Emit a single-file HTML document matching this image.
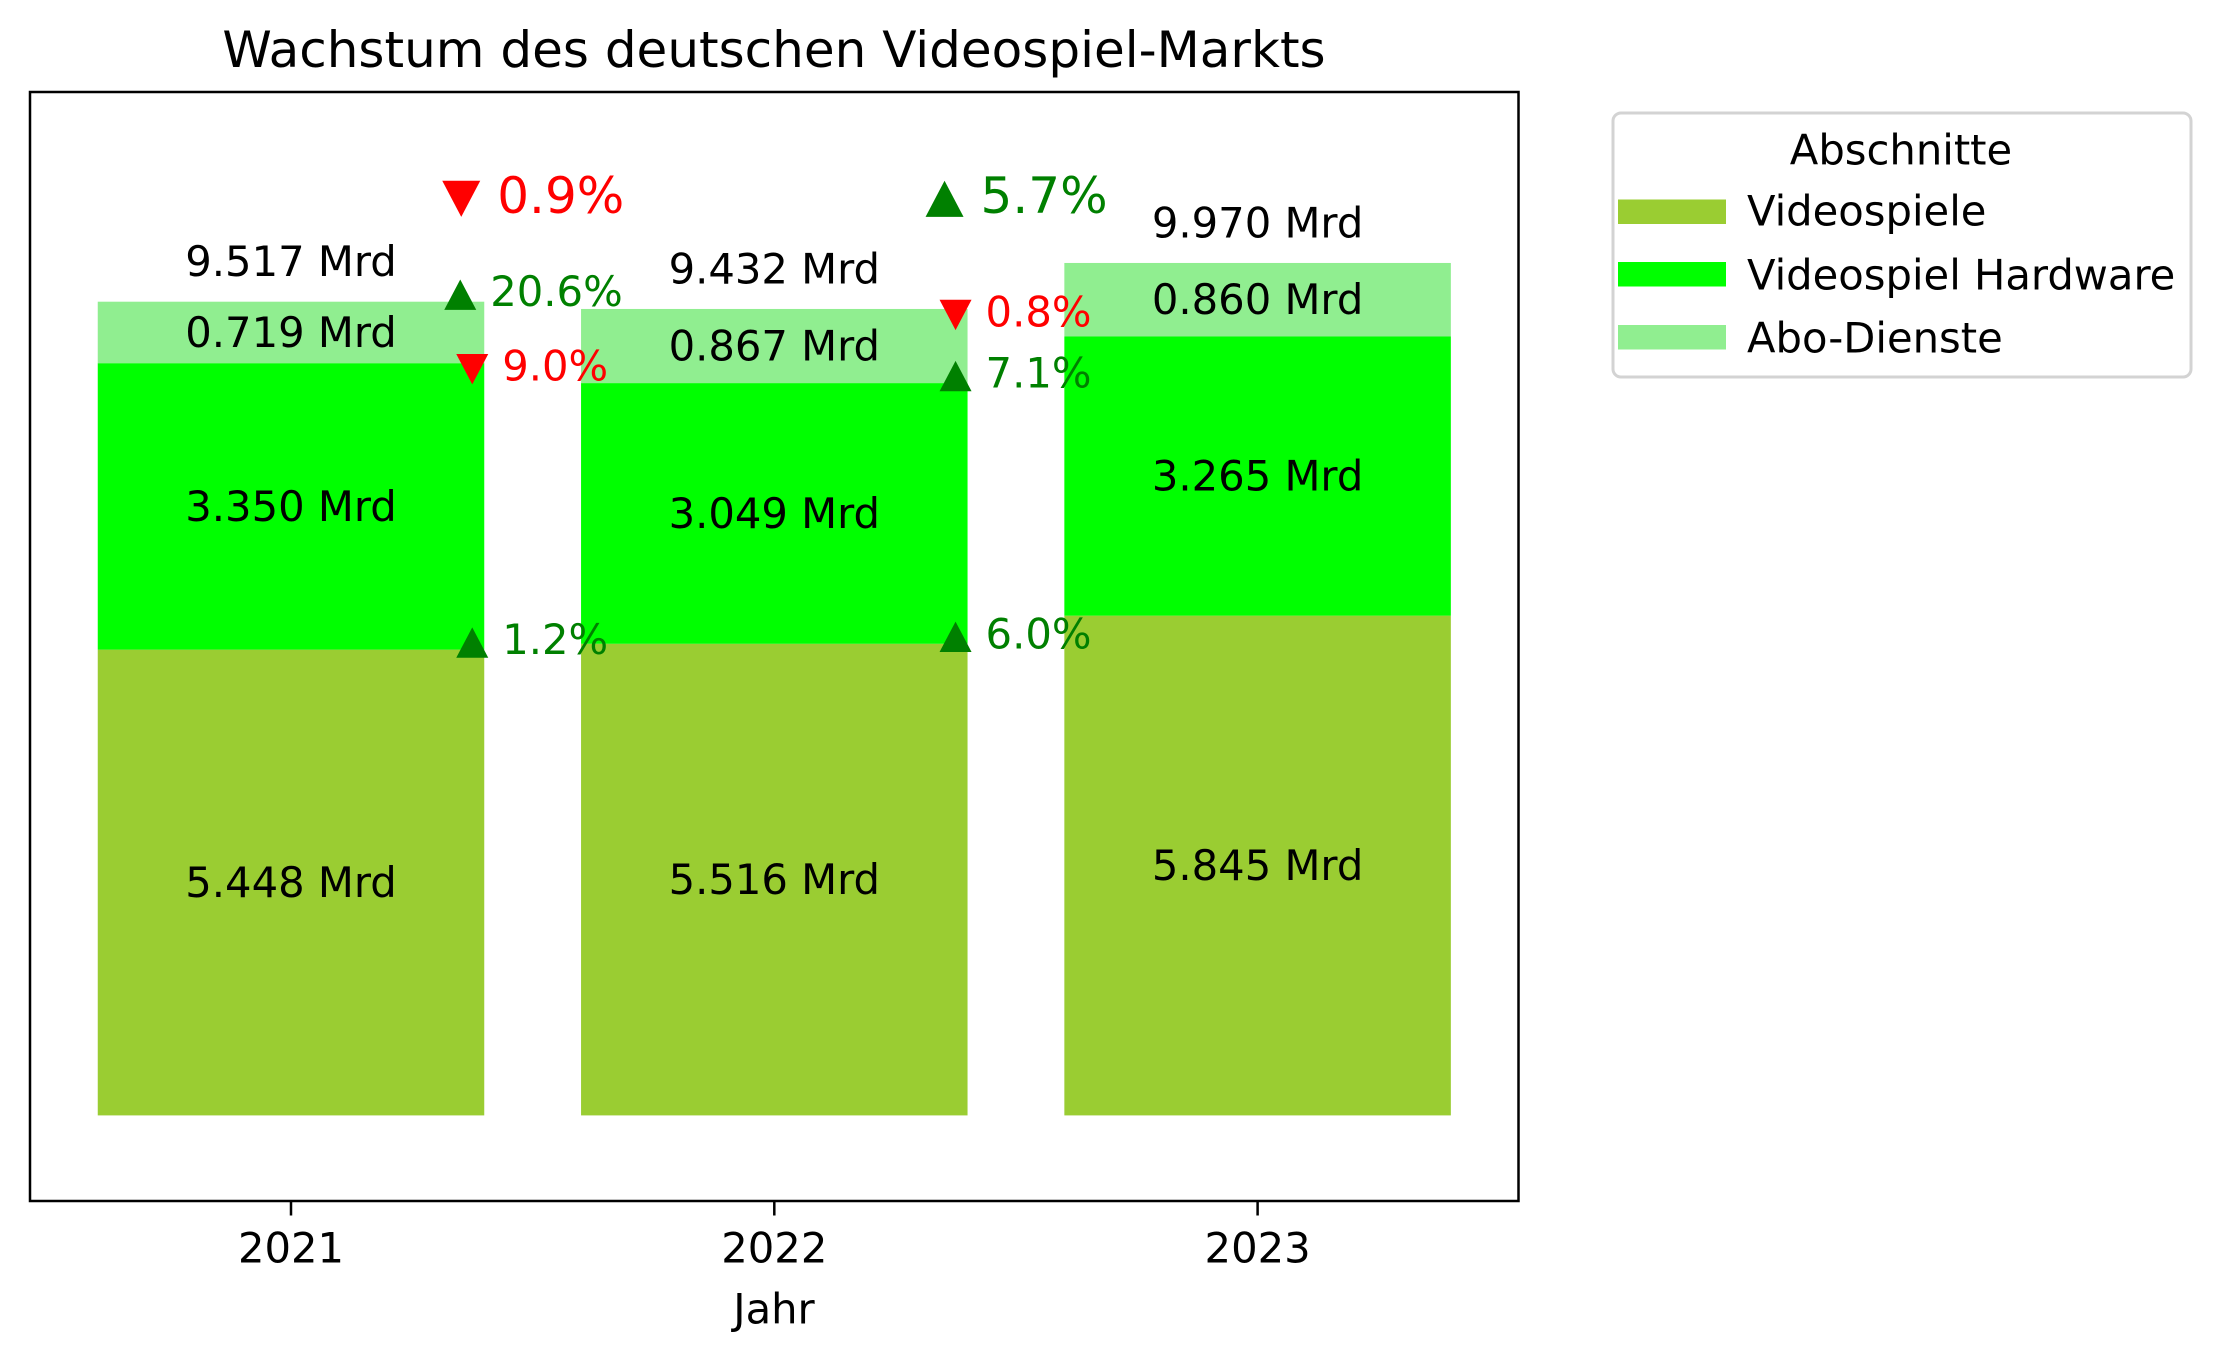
<!DOCTYPE html>
<html><head><meta charset="utf-8"><style>
html,body{margin:0;padding:0;background:#fff}
svg{display:block}
text{font-family:"DejaVu Sans","Liberation Sans",sans-serif}
</style></head><body>
<svg id="chart" width="2220" height="1361" viewBox="0 0 2220 1361" xmlns="http://www.w3.org/2000/svg">
<rect width="2220" height="1361" fill="#fff"/>
<text x="774" y="50" font-size="50" text-anchor="middle" dominant-baseline="central">Wachstum des deutschen Videospiel-Markts</text>
<g id="bars"></g>
<g id="labels"></g>
<rect x="30" y="92" width="1488.5" height="1109" fill="none" stroke="#000" stroke-width="2.5"/>
<g id="xaxis"></g>
<text x="774" y="1309" font-size="41.7" text-anchor="middle" dominant-baseline="central">Jahr</text>
<g>
<rect x="1613" y="113" width="578" height="264" rx="8" fill="#fff" stroke="#d3d3d3" stroke-width="3"/>
<text x="1901" y="150" font-size="41.7" text-anchor="middle" dominant-baseline="central">Abschnitte</text>
<g><rect x="1618" y="199.5" width="108" height="24.5" fill="#9acd32"/><text x="1747" y="211" font-size="41.7" dominant-baseline="central">Videospiele</text></g>
<g><rect x="1618" y="262" width="108" height="24.5" fill="#00ff00"/><text x="1747" y="275" font-size="41.7" dominant-baseline="central">Videospiel Hardware</text></g>
<g><rect x="1618" y="325" width="108" height="24.5" fill="#90ee90"/><text x="1747" y="338" font-size="41.7" dominant-baseline="central">Abo-Dienste</text></g>
</g>
</svg>
<script>
const years = ['2021','2022','2023'];
const games = [5.448, 5.516, 5.845];
const hardware = [3.350, 3.049, 3.265];
const abo = [0.719, 0.867, 0.860];
const NS = 'http://www.w3.org/2000/svg';
const series = [games, hardware, abo];
const colors = ['#9acd32', '#00ff00', '#90ee90'];
const segNames = ['videospiele', 'hardware', 'abo'];
const y0 = 1115.4, pxPer = 85.5;
function yS(v){ return y0 - v * pxPer; }
const barW = 386.5;
function xC(i){ return 291 + i * 483.3; }
function mk(tag, attrs, parent){ const e = document.createElementNS(NS, tag); for (const k in attrs) e.setAttribute(k, attrs[k]); parent.appendChild(e); return e; }
const gb = document.getElementById('bars'), gl = document.getElementById('labels'), gx = document.getElementById('xaxis');
const cum = years.map(() => [0,0,0]);
const totals = [];
years.forEach((yr, i) => {
  let base = 0;
  series.forEach((s, k) => {
    const top = base + s[i];
    const r = mk('rect', {x: xC(i) - barW/2, y: yS(top), width: barW, height: yS(base) - yS(top), fill: colors[k]}, gb);
    
    
    const t = mk('text', {x: xC(i), y: (yS(top) + yS(base)) / 2, 'font-size': 41.7, 'text-anchor': 'middle', 'dominant-baseline': 'central'}, gl);
    t.textContent = s[i].toFixed(3) + ' Mrd';
    
    
    cum[i][k] = top;
    base = top;
  });
  totals.push(base);
  const tt = mk('text', {x: xC(i), y: yS(base) - 40, 'font-size': 41.7, 'text-anchor': 'middle', 'dominant-baseline': 'central'}, gl);
  tt.textContent = base.toFixed(3) + ' Mrd';
  
  
  const tk = mk('line', {x1: xC(i), x2: xC(i), y1: 1201, y2: 1215.5, stroke: '#000', 'stroke-width': 2.5}, gx);
  
  
  const tl = mk('text', {x: xC(i), y: 1248, 'font-size': 41.7, 'text-anchor': 'middle', 'dominant-baseline': 'central'}, gx);
  tl.textContent = yr;
  
  
});
function tri(cx, cy, w, up, color){
  const h = w * 0.95;
  const pts = up ? [[cx - w/2, cy + h/2], [cx + w/2, cy + h/2], [cx, cy - h/2]] : [[cx - w/2, cy - h/2], [cx + w/2, cy - h/2], [cx, cy + h/2]];
  return mk('polygon', {points: pts.map(p => p.join(',')).join(' '), fill: color}, gl);
}
for (let i = 0; i < years.length - 1; i++) {
  series.forEach((s, k) => {
    const g = (s[i+1] - s[i]) / s[i] * 100;
    const up = g >= 0;
    const color = up ? '#008000' : '#ff0000';
    const label = Math.abs(g).toFixed(1) + '%';
    const cy = yS(cum[i][k]) + (up ? -7 : 6);
    const tx = xC(i) + barW/2 - 12 - (label.length > 4 ? 12 : 0);
    const p = tri(tx, cy, 32, up, color);
    
    
    const t = mk('text', {x: tx + 30, y: cy - 3, 'font-size': 41.7, fill: color, 'dominant-baseline': 'central'}, gl);
    t.textContent = label;
    
    
  });
  const gt = (totals[i+1] - totals[i]) / totals[i] * 100;
  const up = gt >= 0;
  const color = up ? '#008000' : '#ff0000';
  const cy = yS(Math.max(...totals) * 1.08) + 4;
  const tx = xC(i) + barW/2 - 23;
  const p = tri(tx, cy, 38, up, color);
  
  
  const t = mk('text', {x: tx + 36, y: cy - 3, 'font-size': 50, fill: color, 'dominant-baseline': 'central'}, gl);
  t.textContent = Math.abs(gt).toFixed(1) + '%';
  
  
}
</script>
</body></html>
